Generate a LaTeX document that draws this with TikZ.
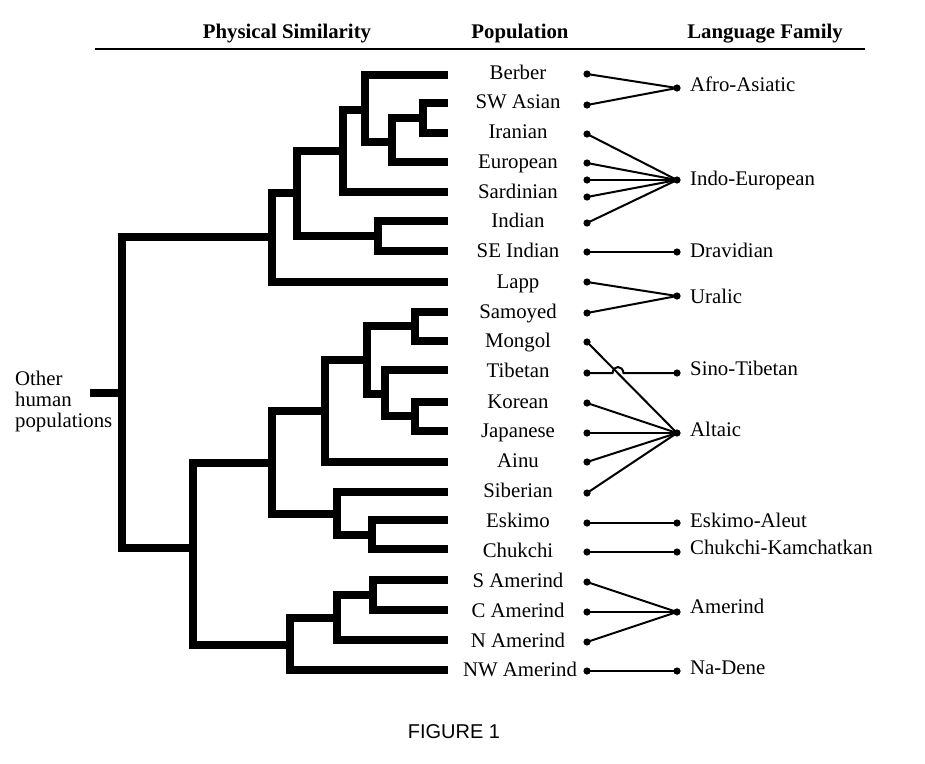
\documentclass[tikz,border=0pt]{standalone}
\usepackage{fontspec}
\setmainfont{Liberation Serif}
\newfontfamily\figfont{Liberation Sans}
\begin{document}
\begin{tikzpicture}[x=1pt,y=-1pt,
  every node/.style={inner sep=0pt, font=\fontsize{20.8}{21}\selectfont},
  tree/.style={line width=7.5pt, line join=miter, line cap=butt},
  link/.style={line width=2pt, line cap=round},
  pop/.style={anchor=base},
  fam/.style={anchor=base west},
  head/.style={anchor=base, font=\fontsize{20.8}{21}\selectfont\bfseries},
  dotmark/.style={fill=black}]
\useasboundingbox (0,0) rectangle (925,763);
\fill[white] (0,0) rectangle (925,763);

% headers
\node[head] (hphys) at (287,38.5) {Physical Similarity};
\node[head] (hpop) at (520,38.5) {Population};
\node[head] (hfam) at (765,38.5) {Language Family};
\coordinate (ruleA) at (95,49);
\coordinate (ruleB) at (865,49);
\draw[line width=2pt] (ruleA) -- (ruleB);

% dendrogram (upper)
\draw[tree] (448,103) -- (423,103) -- (423,133) -- (448,133);
\draw[tree] (423,118) -- (392,118) -- (392,162) -- (448,162);
\draw[tree] (448,75) -- (365,75) -- (365,142) -- (392,142);
\draw[tree] (365,110) -- (343,110) -- (343,192) -- (448,192);
\draw[tree] (448,221) -- (378,221) -- (378,251) -- (448,251);
\draw[tree] (343,151) -- (297,151) -- (297,236) -- (378,236);
\draw[tree] (297,193) -- (272,193) -- (272,282) -- (448,282);
% root
\draw[tree] (272,237) -- (122,237) -- (122,548) -- (193,548);
\draw[tree] (122,393) -- (90,393);
% dendrogram (lower)
\draw[tree] (448,312) -- (415,312) -- (415,341) -- (448,341);
\draw[tree] (448,402) -- (415,402) -- (415,431) -- (448,431);
\draw[tree] (448,370) -- (385,370) -- (385,416) -- (415,416);
\draw[tree] (415,326) -- (367,326) -- (367,394) -- (385,394);
\draw[tree] (367,360) -- (325,360) -- (325,462) -- (448,462);
\draw[tree] (448,520) -- (372,520) -- (372,549) -- (448,549);
\draw[tree] (448,492) -- (337,492) -- (337,535) -- (372,535);
\draw[tree] (325,411) -- (272,411) -- (272,514) -- (337,514);
\draw[tree] (448,580) -- (373,580) -- (373,610) -- (448,610);
\draw[tree] (373,595) -- (337,595) -- (337,640) -- (448,640);
\draw[tree] (337,618) -- (290,618) -- (290,670) -- (448,670);
\draw[tree] (272,463) -- (193,463) -- (193,645) -- (290,645);

\node[anchor=west, align=left, font=\fontsize{20.8}{21}\selectfont] (other) at (15,401) {Other\\human\\populations};

% population labels
\node[pop] (pBerber) at (518,79.5) {Berber};
\node[pop] (pSWA) at (518,108.5) {SW Asian};
\node[pop] (pIran) at (518,138.5) {Iranian};
\node[pop] (pEur) at (518,168.5) {European};
\node[pop] (pSard) at (518,198.5) {Sardinian};
\node[pop] (pInd) at (518,227.5) {Indian};
\node[pop] (pSEI) at (518,257.5) {SE Indian};
\node[pop] (pLapp) at (518,288) {Lapp};
\node[pop] (pSam) at (518,318) {Samoyed};
\node[pop] (pMon) at (518,347.5) {Mongol};
\node[pop] (pTib) at (518,377) {Tibetan};
\node[pop] (pKor) at (518,408) {Korean};
\node[pop] (pJap) at (518,437.5) {Japanese};
\node[pop] (pAinu) at (518,467.5) {Ainu};
\node[pop] (pSib) at (518,497.5) {Siberian};
\node[pop] (pEsk) at (518,527.5) {Eskimo};
\node[pop] (pChuk) at (518,557) {Chukchi};
\node[pop] (pSAm) at (518,587) {S Amerind};
\node[pop] (pCAm) at (518,617) {C Amerind};
\node[pop] (pNAm) at (518,647) {N Amerind};
\node[pop] (pNWAm) at (520,676.5) {NW Amerind};

% family labels
\node[fam] (fAfroT) at (690,91.5) {Afro-Asiatic};
\node[fam] (fIET) at (690,185.5) {Indo-European};
\node[fam] (fDravT) at (690,257.5) {Dravidian};
\node[fam] (fUralT) at (690,303.5) {Uralic};
\node[fam] (fSinoT) at (690,375.5) {Sino-Tibetan};
\node[fam] (fAltT) at (690,436.5) {Altaic};
\node[fam] (fEskT) at (690,527.5) {Eskimo-Aleut};
\node[fam] (fChukT) at (690,554.5) {Chukchi-Kamchatkan};
\node[fam] (fAmT) at (690,613.5) {Amerind};
\node[fam] (fNaT) at (690,674.5) {Na-Dene};

% population dots
\coordinate (dBerber) at (587,74);
\coordinate (dSWA) at (587,105);
\coordinate (dIran) at (587,134);
\coordinate (dEur) at (587,163);
\coordinate (dExtra) at (587,180);
\coordinate (dSard) at (587,197);
\coordinate (dInd) at (587,223);
\coordinate (dSEI) at (587,252);
\coordinate (dLapp) at (587,282);
\coordinate (dSam) at (587,313);
\coordinate (dMon) at (587,342);
\coordinate (dTib) at (587,373);
\coordinate (dKor) at (587,403);
\coordinate (dJap) at (587,433);
\coordinate (dAinu) at (587,462);
\coordinate (dSib) at (587,493);
\coordinate (dEsk) at (587,523);
\coordinate (dChuk) at (587,552);
\coordinate (dSAm) at (587,582);
\coordinate (dCAm) at (587,612);
\coordinate (dNAm) at (587,642);
\coordinate (dNWAm) at (587,671);
% family dots
\coordinate (fAfro) at (677,88);
\coordinate (fIE) at (677,180);
\coordinate (fDrav) at (677,252);
\coordinate (fUral) at (677,296);
\coordinate (fSino) at (677,373);
\coordinate (fAlt) at (677,433);
\coordinate (fEsk) at (677,523);
\coordinate (fChuk) at (677,552);
\coordinate (fAm) at (677,612);
\coordinate (fNa) at (677,671);
\coordinate (hopA) at (612.5,373);
\coordinate (hopB) at (623.5,373);

% links
\draw[link] (dBerber) -- (fAfro);
\draw[link] (dSWA) -- (fAfro);
\draw[link] (dIran) -- (fIE);
\draw[link] (dEur) -- (fIE);
\draw[link] (dExtra) -- (fIE);
\draw[link] (dSard) -- (fIE);
\draw[link] (dInd) -- (fIE);
\draw[link] (dSEI) -- (fDrav);
\draw[link] (dLapp) -- (fUral);
\draw[link] (dSam) -- (fUral);
\draw[link] (dMon) -- (fAlt);
\draw[link] (dTib) -- (hopA) .. controls (613.5,365) and (622.5,365) .. (hopB) -- (fSino);
\draw[link] (dKor) -- (fAlt);
\draw[link] (dJap) -- (fAlt);
\draw[link] (dAinu) -- (fAlt);
\draw[link] (dSib) -- (fAlt);
\draw[link] (dEsk) -- (fEsk);
\draw[link] (dChuk) -- (fChuk);
\draw[link] (dSAm) -- (fAm);
\draw[link] (dCAm) -- (fAm);
\draw[link] (dNAm) -- (fAm);
\draw[link] (dNWAm) -- (fNa);

\foreach \c in {dBerber,dSWA,dIran,dEur,dExtra,dSard,dInd,dSEI,dLapp,dSam,dMon,dTib,dKor,dJap,dAinu,dSib,dEsk,dChuk,dSAm,dCAm,dNAm,dNWAm,fAfro,fIE,fDrav,fUral,fSino,fAlt,fEsk,fChuk,fAm,fNa}
  \fill[dotmark] (\c) circle (3.6pt);

\node[anchor=base, font=\fontsize{20}{21}\selectfont\figfont] (fig) at (454,738) {FIGURE 1};
\end{tikzpicture}
\end{document}
